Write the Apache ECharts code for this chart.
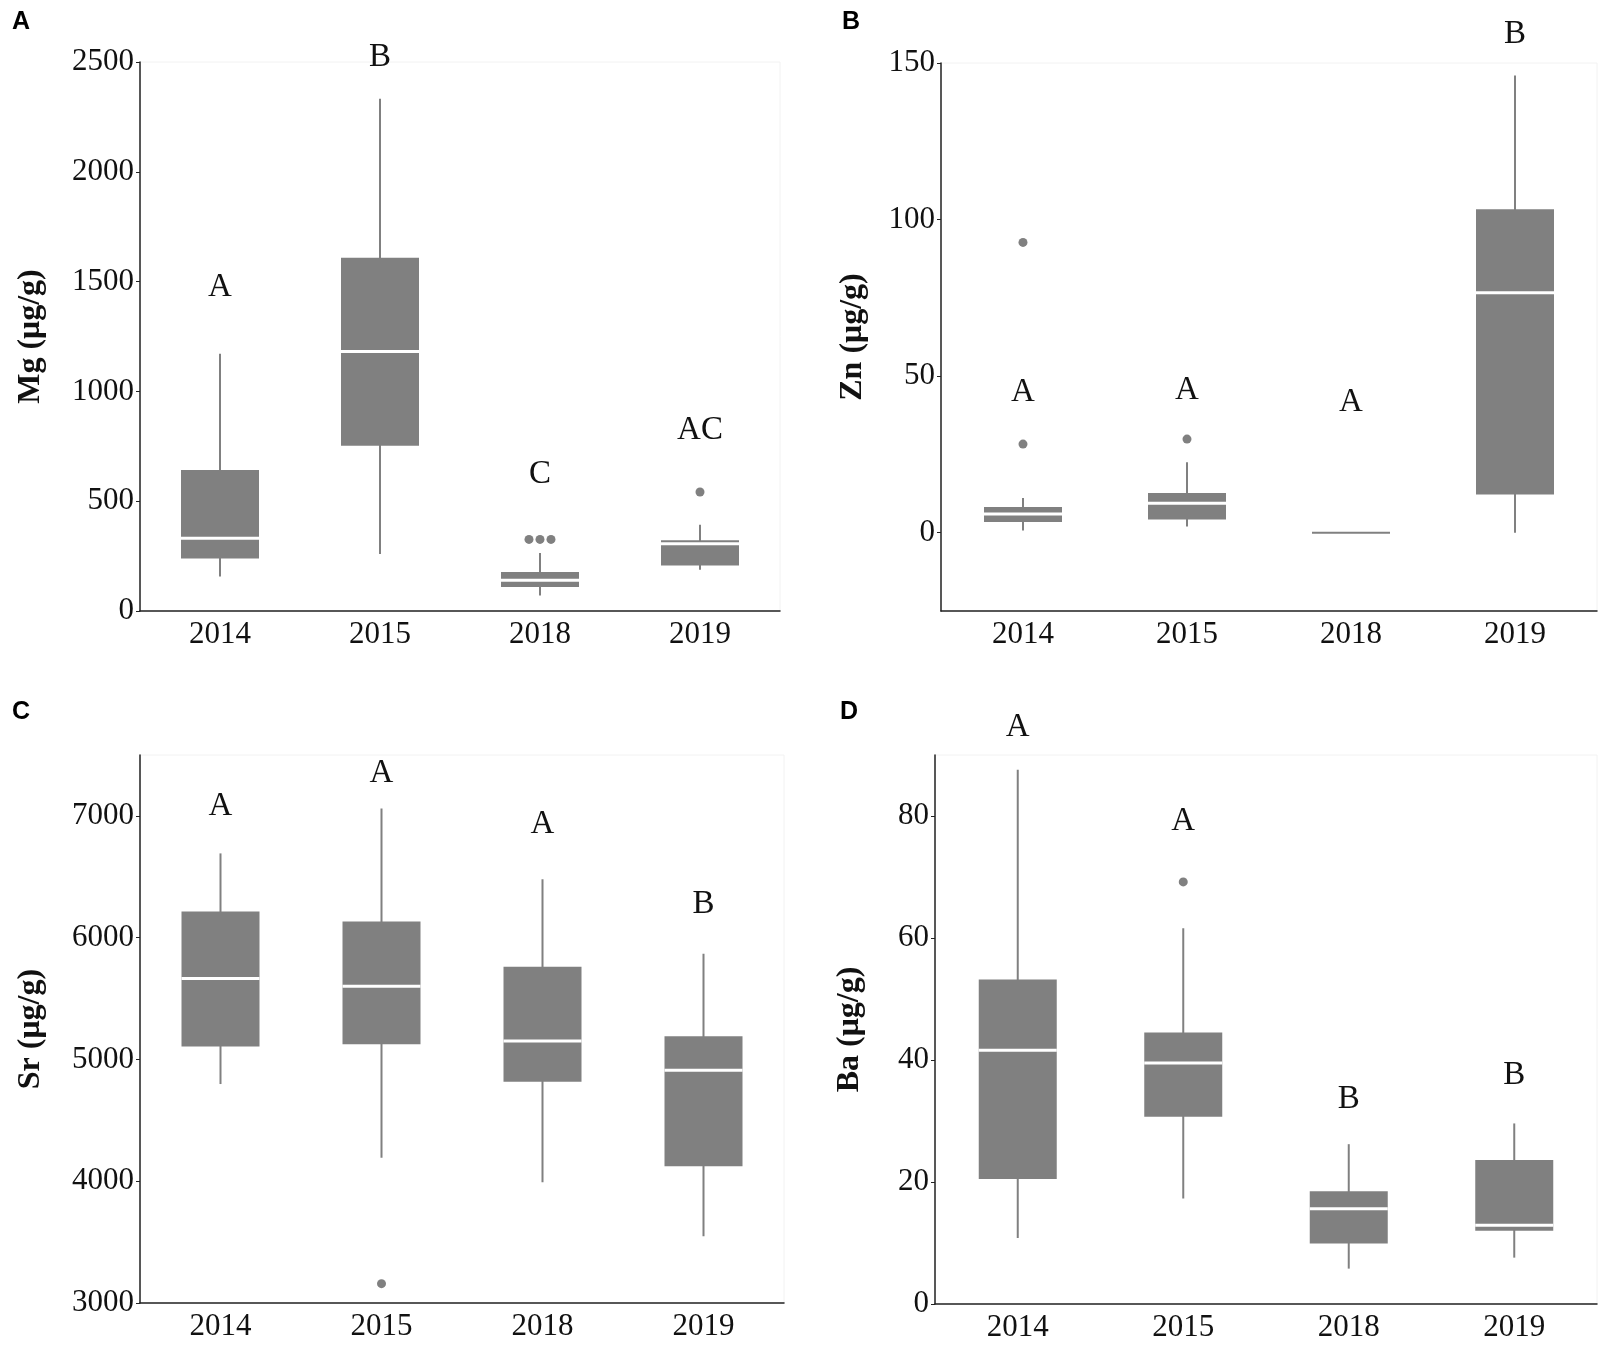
<!DOCTYPE html>
<html>
<head>
<meta charset="utf-8">
<script src="https://cdn.jsdelivr.net/npm/echarts@6/dist/echarts.min.js"></script>
<style>
  html, body { margin: 0; padding: 0; background: #fff; }
  #main { width: 1600px; height: 1346px; }
</style>
</head>
<body>
<div id="main"></div>
<script>
// categories
const years = ['2014', '2015', '2018', '2019'];

// box stats: [min, q1, median, q3, max]
const mgBox = [[157, 239, 331, 642, 1172], [259, 753, 1182, 1609, 2333], [71, 109, 140, 178, 264], [188, 207, 306, 322, 393]];
const mgOutliers = [[], [], [326, 326, 326], [542]];
const mgLetters = ['A', 'B', 'C', 'AC'];
const mgLetterAt = [1475, 2519, 623, 824];

const znBox = [[0.7, 3.4, 6.0, 8.2, 11.1], [2.0, 4.2, 9.4, 12.7, 22.5], [0, 0, 0, 0, 0], [0, 12.2, 76.6, 103.3, 146]];
const znOutliers = [[28.3, 92.7], [29.9], [], []];
const znLetters = ['A', 'A', 'A', 'B'];
const znLetterAt = [44.7, 45.4, 41.7, 159];

const srBox = [[4798, 5106, 5665, 6214, 6692], [4193, 5124, 5602, 6133, 7060], [3991, 4816, 5152, 5761, 6480], [3549, 4122, 4912, 5191, 5867]];
const srOutliers = [[], [3159], [], []];
const srLetters = ['A', 'A', 'A', 'B'];
const srLetterAt = [7078, 7347, 6929, 6274];

const baBox = [[10.8, 20.5, 41.6, 53.2, 87.6], [17.3, 30.7, 39.5, 44.5, 61.6], [5.8, 9.9, 15.6, 18.5, 26.2], [7.6, 12.0, 12.9, 23.6, 29.6]];
const baOutliers = [[], [69.2], [], []];
const baLetters = ['A', 'A', 'B', 'B'];
const baLetterAt = [94.5, 79.2, 33.6, 37.5];

// y tick labels
const mgTicks = [0, 500, 1000, 1500, 2000, 2500];
const znTicks = [0, 50, 100, 150];
const srTicks = [3000, 4000, 5000, 6000, 7000];
const baTicks = [0, 20, 40, 60, 80];

const GREY = '#808080';
const SERIF = '"Liberation Serif", "DejaVu Serif", serif';
const BOX_W = 78;

function boxSeries(idx, box, outliers, letters, letterAt) {
  return {
    type: 'custom',
    xAxisIndex: idx,
    yAxisIndex: idx,
    clip: false,
    data: box.map((b, i) => [i].concat(b)),
    encode: { x: 0, y: [1, 2, 3, 4, 5] },
    renderItem(params, api) {
      const i = api.value(0);
      const mn = api.coord([i, api.value(1)]);
      const q1 = api.coord([i, api.value(2)]);
      const md = api.coord([i, api.value(3)]);
      const q3 = api.coord([i, api.value(4)]);
      const mx = api.coord([i, api.value(5)]);
      const cx = mn[0];
      const kids = [];
      kids.push({ type: 'line', shape: { x1: cx, y1: mx[1], x2: cx, y2: mn[1] },
        style: { stroke: GREY, lineWidth: 2 } });
      const flat = q1[1] - q3[1] < 2;
      kids.push({ type: 'rect', shape: { x: cx - BOX_W / 2, y: flat ? q3[1] - 1 : q3[1], width: BOX_W, height: flat ? 2 : q1[1] - q3[1] },
        style: { fill: GREY } });
      if (!flat) {
        kids.push({ type: 'line', shape: { x1: cx - BOX_W / 2, y1: md[1], x2: cx + BOX_W / 2, y2: md[1] },
          style: { stroke: '#fff', lineWidth: 3 } });
      }
      const outs = outliers[params.dataIndex];
      outs.forEach((v, k) => {
        const ties = outs.filter(w => w === v).length;
        const pos = outs.slice(0, k).filter(w => w === v).length;
        const off = (pos - (ties - 1) / 2) * 11;
        const p = api.coord([i, v]);
        kids.push({ type: 'circle', shape: { cx: cx + off, cy: p[1], r: 4.5 }, style: { fill: GREY } });
      });
      const lp = api.coord([i, letterAt[params.dataIndex]]);
      kids.push({ type: 'text', x: cx, y: lp[1],
        style: { text: letters[params.dataIndex], fill: '#111', fontSize: 33, fontFamily: SERIF,
          align: 'center', verticalAlign: 'middle' } });
      return { type: 'group', children: kids };
    }
  };
}

const grids = [
  { left: 140, top: 62, width: 640, height: 549 },
  { left: 941, top: 63, width: 656, height: 548 },
  { left: 140, top: 755, width: 644, height: 548 },
  { left: 935, top: 755, width: 662, height: 549 }
];

function xAxis(idx) {
  return {
    type: 'category', gridIndex: idx, data: years,
    axisLine: { onZero: false, lineStyle: { color: '#222', width: 1.5 } },
    axisTick: { show: false },
    axisLabel: { color: '#111', fontSize: 31, fontFamily: SERIF, margin: 8 }
  };
}

function yAxis(idx, name, min, max, ticks, gap) {
  return {
    type: 'value', gridIndex: idx, min: min, max: max,
    name: name, nameLocation: 'middle', nameGap: gap,
    nameTextStyle: { color: '#111', fontSize: 32, fontWeight: 'bold', fontFamily: SERIF },
    axisLine: { show: true, lineStyle: { color: '#222', width: 1.5 } },
    axisTick: { show: true, length: 4, customValues: ticks, lineStyle: { color: '#222' } },
    axisLabel: { color: '#111', fontSize: 31, fontFamily: SERIF, margin: 6, customValues: ticks,
      formatter: v => String(v) },
    splitLine: { show: false }
  };
}

const panelTag = (text, x, y) => ({
  type: 'text', left: x, top: y,
  style: { text: text, fill: '#000', fontSize: 25, fontWeight: 'bold', fontFamily: '"Liberation Sans", Arial, sans-serif' }
});

const chart = echarts.init(document.getElementById('main'));
chart.setOption({
  backgroundColor: '#fff',
  animation: false,
  grid: grids.map(g => Object.assign({ show: true, borderColor: '#f2f2f2', borderWidth: 1 }, g)),
  xAxis: [0, 1, 2, 3].map(xAxis),
  yAxis: [
    yAxis(0, 'Mg (μg/g)', 0, 2500, mgTicks, 93),
    yAxis(1, 'Zn (μg/g)', -25, 150, znTicks, 72),
    yAxis(2, 'Sr (μg/g)', 3000, 7500, srTicks, 93),
    yAxis(3, 'Ba (μg/g)', 0, 90, baTicks, 69)
  ],
  series: [
    boxSeries(0, mgBox, mgOutliers, mgLetters, mgLetterAt),
    boxSeries(1, znBox, znOutliers, znLetters, znLetterAt),
    boxSeries(2, srBox, srOutliers, srLetters, srLetterAt),
    boxSeries(3, baBox, baOutliers, baLetters, baLetterAt)
  ],
  graphic: [
    panelTag('A', 12, 10),
    panelTag('B', 842, 10),
    panelTag('C', 12, 700),
    panelTag('D', 840, 700)
  ]
});
</script>
</body>
</html>
